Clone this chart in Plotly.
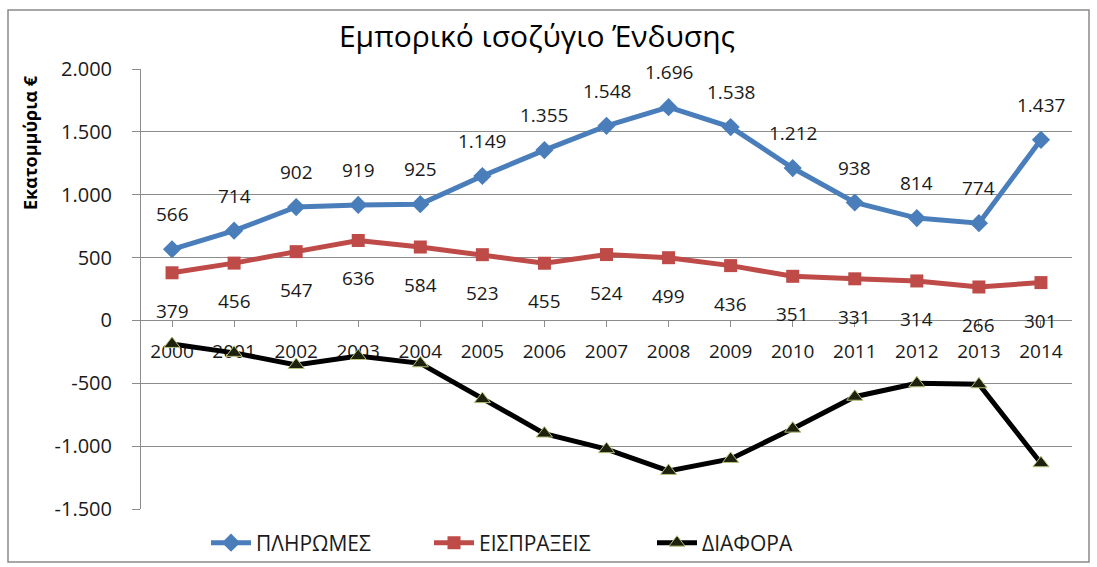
import plotly.graph_objects as go

# ---------------- data ----------------
years = ["2000", "2001", "2002", "2003", "2004", "2005", "2006", "2007",
         "2008", "2009", "2010", "2011", "2012", "2013", "2014"]
payments = [566, 714, 902, 919, 925, 1149, 1355, 1548, 1696, 1538, 1212, 938, 814, 774, 1437]
receipts = [379, 456, 547, 636, 584, 523, 455, 524, 499, 436, 351, 331, 314, 266, 301]
difference = [-187, -258, -355, -283, -341, -626, -900, -1024, -1197, -1102, -861, -607, -500, -508, -1136]

y_tickvals = [-1500, -1000, -500, 0, 500, 1000, 1500, 2000]
y_ticktext = ["-1.500", "-1.000", "-500", "0", "500", "1.000", "1.500", "2.000"]

series_names = ["ΠΛΗΡΩΜΕΣ", "ΕΙΣΠΡΑΞΕΙΣ", "ΔΙΑΦΟΡΑ"]
title_text = "Εμπορικό ισοζύγιο Ένδυσης"
y_title = "Εκατομμύρια €"

# ---------------- layout geometry (pixels) ----------------
W, H = 1097, 567
L, R, T, B = 141, 1072, 69, 509
PW, PH = R - L, B - T
Y_MIN, Y_MAX = -1500, 2000

FONT = "Open Sans, DejaVu Sans, sans-serif"
GRID = "#8C8C8C"
BLUE = "#4A7EBB"
RED = "#BE4B48"


def px_x(px):
    return (px - L) / PW


def px_y(py):
    return (B - py) / PH


def fmt(v):
    return f"{v:,}".replace(",", ".")


fig = go.Figure()
fig.add_trace(go.Scatter(
    x=years, y=payments, name=series_names[0], mode="lines+markers",
    line=dict(color=BLUE, width=5),
    marker=dict(symbol="diamond", size=14, color=BLUE),
    cliponaxis=False,
))
fig.add_trace(go.Scatter(
    x=years, y=receipts, name=series_names[1], mode="lines+markers",
    line=dict(color=RED, width=5),
    marker=dict(symbol="square", size=13, color=RED),
    cliponaxis=False,
))
fig.add_trace(go.Scatter(
    x=years, y=difference, name=series_names[2], mode="lines+markers",
    line=dict(color="#000000", width=5),
    marker=dict(symbol="triangle-up", size=14, color="#1C220E",
                line=dict(color="#B9C27A", width=1)),
    cliponaxis=False,
))

annotations = []
for i, v in enumerate(payments):
    annotations.append(dict(x=i, y=v, xref="x", yref="y", text=fmt(v),
                            showarrow=False, yshift=35,
                            font=dict(family=FONT, size=19, color="#1a1a1a")))
for i, v in enumerate(receipts):
    annotations.append(dict(x=i, y=v, xref="x", yref="y", text=fmt(v),
                            showarrow=False, yshift=-38,
                            font=dict(family=FONT, size=19, color="#1a1a1a")))

annotations.append(dict(
    x=px_x(30), y=px_y(143), xref="paper", yref="paper", text="<b>" + y_title + "</b>",
    textangle=-90, showarrow=False, xanchor="center", yanchor="middle",
    font=dict(family=FONT, size=18, color="#000000"),
))

fig.update_layout(
    width=W, height=H,
    margin=dict(l=L, r=W - R, t=T, b=H - B, autoexpand=False),
    paper_bgcolor="white", plot_bgcolor="white",
    font=dict(family=FONT, color="#1a1a1a"),
    title=dict(text=title_text, x=px_x(537), xref="paper", xanchor="center",
               y=1 - 36 / H, yanchor="middle",
               font=dict(family=FONT, size=30, color="#000000")),
    showlegend=True,
    legend=dict(orientation="h", x=px_x(206), xanchor="left",
                y=px_y(543), yanchor="middle",
                font=dict(family=FONT, size=21, color="#1a1a1a"),
                bgcolor="rgba(0,0,0,0)", itemwidth=40, entrywidth=168,
                tracegroupgap=0),
    annotations=annotations,
    shapes=[dict(type="rect", xref="paper", yref="paper",
                 x0=px_x(8), x1=px_x(1089), y0=px_y(562), y1=px_y(10),
                 line=dict(color="#8A8A8A", width=1.5), layer="below")],
)

fig.update_yaxes(
    range=[Y_MIN, Y_MAX], tickvals=y_tickvals, ticktext=y_ticktext,
    showgrid=True, gridcolor=GRID, gridwidth=1, zeroline=False,
    showline=True, linecolor=GRID, linewidth=1,
    ticks="outside", ticklen=8, tickcolor=GRID, ticklabelstandoff=16,
    tickfont=dict(family=FONT, size=20, color="#1a1a1a"),
)
fig.update_xaxes(
    type="category", range=[-0.5, 14.5],
    anchor="free", position=(0 - Y_MIN) / (Y_MAX - Y_MIN),
    showgrid=False, zeroline=False, showline=True, linecolor=GRID, linewidth=1,
    ticks="outside", ticklen=6, tickcolor=GRID, ticklabelstandoff=8,
    tickfont=dict(family=FONT, size=19, color="#1a1a1a"),
    layer="below traces",
)

fig.write_html("out.html", config={"displayModeBar": False},
               post_script="document.body.style.margin='0';document.body.style.overflow='hidden';")
